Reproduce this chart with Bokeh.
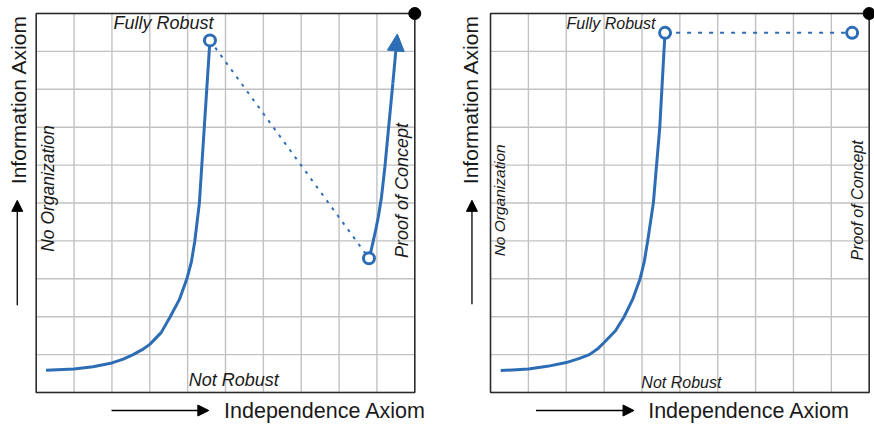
from bokeh.plotting import figure
from bokeh.layouts import row
from bokeh.models import Range1d, Arrow, NormalHead
from bokeh.core.properties import value
from bokeh.embed import file_html
from bokeh.resources import INLINE

# grid of the design space (both axes run 0..10)
grid_ticks = list(range(11))

# left panel: path to full robustness, then jump down and climb to proof of concept
robust_x = [0.26, 1.00, 1.50, 2.00, 2.30, 2.56, 2.80, 3.00, 3.30, 3.54, 3.78, 3.98,
            4.10, 4.19, 4.31, 4.44, 4.57, 4.59]
robust_y = [0.59, 0.62, 0.68, 0.78, 0.88, 1.00, 1.13, 1.27, 1.58, 2.00, 2.45, 3.00,
            3.45, 4.00, 5.00, 7.00, 9.00, 9.29]
jump_x = [4.59, 8.79]
jump_y = [9.29, 3.54]
concept_x = [8.79, 8.84, 8.90, 8.97, 9.04, 9.12, 9.21, 9.30, 9.42]
concept_y = [3.54, 3.72, 3.98, 4.30, 4.65, 5.15, 5.95, 6.90, 8.15]
concept_tip = (9.54, 9.46)

# right panel: path to full robustness, then straight across to proof of concept
robust2_x = [0.27, 1.00, 1.50, 2.00, 2.35, 2.61, 2.85, 3.00, 3.30, 3.53, 3.75, 3.95,
             4.06, 4.15, 4.30, 4.47, 4.58, 4.61]
robust2_y = [0.58, 0.62, 0.69, 0.79, 0.90, 1.00, 1.17, 1.32, 1.63, 2.00, 2.45, 3.00,
             3.45, 4.00, 5.00, 7.00, 9.00, 9.49]
level_x = [4.61, 9.55]
level_y = [9.49, 9.49]

BLUE = "#2d6db5"
FONT = value("Liberation Sans")


def panel(x_start, x_end, y_start, y_end):
    p = figure(width=437, height=424, output_backend="svg", toolbar_location=None,
               x_axis_location=None, y_axis_location=None, min_border=0,
               x_range=Range1d(x_start, x_end), y_range=Range1d(y_start, y_end),
               outline_line_color=None, background_fill_color="white")
    p.grid.visible = False
    lo, hi = grid_ticks[0], grid_ticks[-1]
    n = len(grid_ticks)
    # vertical and horizontal grid lines, limited to the square
    p.segment(x0=grid_ticks, y0=[lo] * n, x1=grid_ticks, y1=[hi] * n,
              line_color="#c2c2c2", line_width=1.4)
    p.segment(x0=[lo] * n, y0=grid_ticks, x1=[hi] * n, y1=grid_ticks,
              line_color="#c2c2c2", line_width=1.4)
    p.quad(left=[lo], right=[hi], bottom=[lo], top=[hi], fill_alpha=0,
           line_color="#2a2a2a", line_width=1.5)
    p.scatter([hi], [hi], marker="circle", size=12, color="black")
    return p


def label(p, x, y, text, size, angle=0.0, italic=True):
    p.text(x=[x], y=[y], text=[text], angle=angle, text_font=FONT,
           text_font_size=value(size), text_font_style="italic" if italic else "normal",
           text_align="center", text_baseline="middle", text_color="#1a1a1a")


def axis_titles(p, ylab_x, ylab_y, yarr, xlab_x, xlab_y, xarr):
    label(p, ylab_x, ylab_y, "Information Axiom", "21px", angle=1.5708, italic=False)
    label(p, xlab_x, xlab_y, "Independence Axiom", "21.5px", italic=False)
    p.add_layout(Arrow(end=NormalHead(size=11, fill_color="black", line_color="black"),
                       x_start=yarr[0], y_start=yarr[1], x_end=yarr[0], y_end=yarr[2],
                       line_color="black", line_width=1.3))
    p.add_layout(Arrow(end=NormalHead(size=11, fill_color="black", line_color="black"),
                       x_start=xarr[0], y_start=xlab_y, x_end=xarr[1], y_end=xlab_y,
                       line_color="black", line_width=1.3))


# ---- left panel ----
p1 = panel(-0.943, 10.600, -0.844, 10.343)
p1.line(jump_x, jump_y, line_color=BLUE, line_width=2, line_dash="3 6")
p1.line(robust_x, robust_y, line_color=BLUE, line_width=3, line_join="round")
p1.line(concept_x, concept_y, line_color=BLUE, line_width=3, line_join="round")
p1.add_layout(Arrow(end=NormalHead(size=17, fill_color=BLUE, line_color=BLUE),
                    x_start=concept_x[-1], y_start=concept_y[-1],
                    x_end=concept_tip[0], y_end=concept_tip[1],
                    line_color=BLUE, line_width=3))
p1.scatter(jump_x, jump_y, marker="circle", size=11, line_width=3,
           line_color=BLUE, fill_color="white")
label(p1, 3.36, 9.76, "Fully Robust", "18px")
label(p1, 5.22, 0.32, "Not Robust", "18px")
label(p1, 0.31, 5.38, "No Organization", "17.5px", angle=1.5708)
label(p1, 9.65, 5.33, "Proof of Concept", "18px", angle=1.5708)
axis_titles(p1, -0.47, 7.73, (-0.50, 2.30, 5.07), 7.63, -0.475, (1.99, 4.56))

# ---- right panel ----
p2 = panel(-1.400, 10.140, -0.844, 10.343)
p2.line(level_x, level_y, line_color=BLUE, line_width=2, line_dash="4 7")
p2.line(robust2_x, robust2_y, line_color=BLUE, line_width=3, line_join="round")
p2.scatter(level_x, level_y, marker="circle", size=11, line_width=3,
           line_color=BLUE, fill_color="white")
label(p2, 3.18, 9.74, "Fully Robust", "16px")
label(p2, 5.04, 0.26, "Not Robust", "16px")
label(p2, 0.24, 5.07, "No Organization", "15.5px", angle=1.5708)
label(p2, 9.69, 5.07, "Proof of Concept", "16px", angle=1.5708)
axis_titles(p2, -0.52, 7.73, (-0.49, 2.33, 5.07), 6.83, -0.475, (1.20, 3.79))

layout = row(p1, p2, spacing=0)
open("out.html", "w").write(file_html(layout, INLINE))
